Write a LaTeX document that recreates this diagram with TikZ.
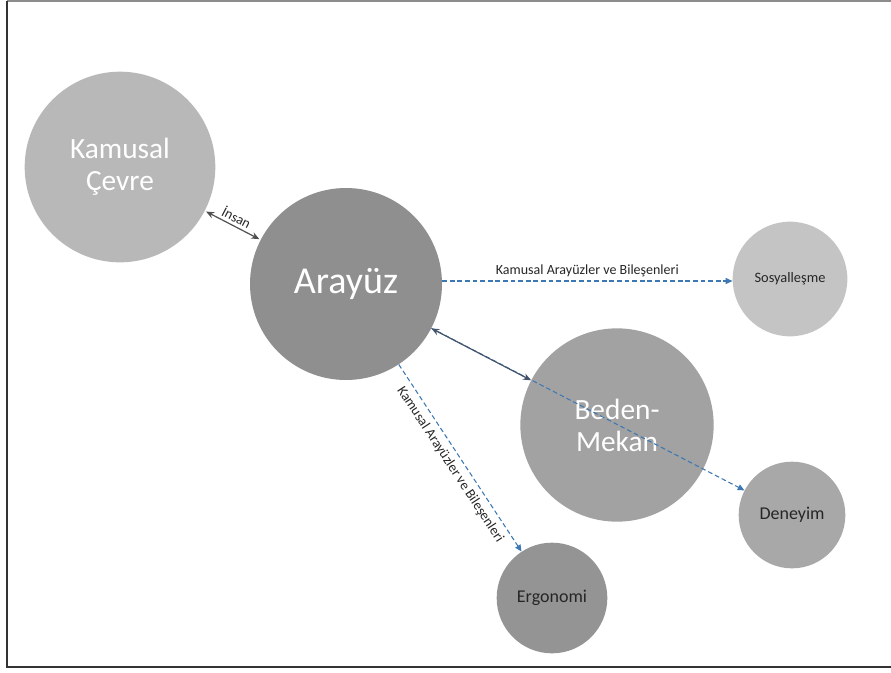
\documentclass[tikz,border=0pt]{standalone}
\usepackage{fontspec}
\setmainfont{Carlito}
\usetikzlibrary{arrows.meta}
\definecolor{cKC}{HTML}{B8B8B8}
\definecolor{cAR}{HTML}{8F8F8F}
\definecolor{cSO}{HTML}{C4C4C4}
\definecolor{cBM}{HTML}{A2A2A2}
\definecolor{cDE}{HTML}{A8A8A8}
\definecolor{cER}{HTML}{949494}
\definecolor{cDash}{HTML}{3C78B4}
\definecolor{cSolid}{HTML}{44546A}
\definecolor{cGray}{HTML}{505050}
\begin{document}
\begin{tikzpicture}[x=0.75pt,y=-0.75pt,
  bubble/.style={circle,inner sep=0pt,align=center},
  bigtext/.style={text=white,font=\fontsize{22}{24}\selectfont},
  smalltext/.style={text=black!85,font=\fontsize{13.5}{16}\selectfont},
  dashlink/.style={draw=cDash,line width=0.8pt,dash pattern=on 3.5pt off 2.2pt,-{Triangle[length=5pt,width=4.5pt]}},
  lbl/.style={font=\fontsize{10.5}{12}\selectfont,text=black!85,inner sep=2pt},
  solidtip/.style={{Stealth[length=6pt,width=5pt]}-{Stealth[length=6pt,width=5pt]}},
]
\useasboundingbox (0,0) rectangle (891,672);
% frame
\draw[draw=gray!90,line width=0.8pt] (7,1) -- (891,1);
\draw[draw=black!80,line width=0.8pt] (7,1) -- (7,667) -- (891,667);

\node[bubble,fill=cKC,minimum size=143pt,bigtext] (kc) at (120,167) {Kamusal\\Çevre};
\node[bubble,fill=cAR,minimum size=144pt,text=white,font=\fontsize{28.5}{32}\selectfont] (ar) at (346,284) {Arayüz};
\node[bubble,fill=cSO,minimum size=86pt,text=black!85,font=\fontsize{10.8}{13}\selectfont] (so) at (790,279) {Sosyalleşme};
\node[bubble,fill=cBM,minimum size=145pt,bigtext] (bm) at (617,425) {Beden-\\Mekan};
\node[bubble,fill=cDE,minimum size=80pt,smalltext] (de) at (792,515) {Deneyim};
\node[bubble,fill=cER,minimum size=83pt,smalltext] (er) at (552,598) {Ergonomi};

% connectors
\draw[cGray,line width=0.9pt,solidtip,shorten <=1pt,shorten >=1pt]
  (kc) -- (ar) node[midway,sloped,above,lbl] {İnsan};
\draw[dashlink] (ar.east |- 0,281) -- (so.west |- 0,281)
  node[midway,above,lbl,yshift=1pt] {Kamusal Arayüzler ve Bileşenleri};
\draw[dashlink] (ar) -- (er) node[midway,sloped,below,lbl,inner sep=4pt] {Kamusal Arayüzler ve Bileşenleri};
\draw[dashlink] (ar) -- (de);
\draw[cSolid,line width=0.9pt,solidtip] (ar) -- (bm);
\end{tikzpicture}
\end{document}
